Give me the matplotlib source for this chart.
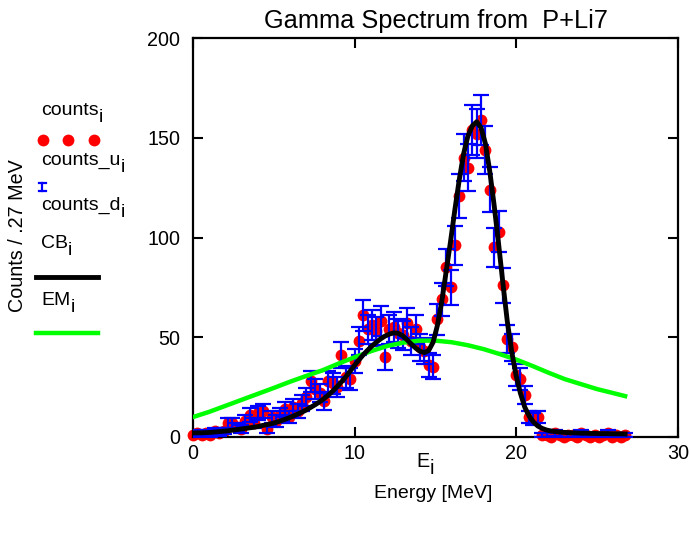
import numpy as np
import matplotlib
matplotlib.use("Agg")
import matplotlib.pyplot as plt
from matplotlib.lines import Line2D

plt.rcParams['font.family'] = ['Liberation Sans', 'DejaVu Sans']

# bins of .27 MeV
bin_width = 0.27
energy = bin_width * np.arange(100)

# counts per bin
counts = np.array([
    1, 2, 1, 2, 1, 3, 2, 3, 7, 7,
    5, 4, 8, 11, 7, 12, 13, 4, 10, 8,
    11, 14, 10, 15, 13, 17, 20, 28, 24, 22,
    18, 28, 27, 25, 41, 30, 29, 38, 48, 61,
    54, 56, 53, 58, 40, 54, 55, 52, 51, 57,
    48, 54, 45, 43, 36, 35, 59, 69, 85, 75,
    96, 121, 140, 135, 154, 152, 159, 144, 124, 95,
    103, 76, 49, 45, 31, 29, 21, 10, 9, 10,
    1, 1, 0, 2, 1, 0, 1, 1, 0, 2,
    1, 0, 1, 0, 1, 2, 0, 1, 0, 1,
], dtype=float)

# poisson error bars
counts_u = counts + np.sqrt(counts)
counts_d = counts - np.sqrt(counts)

# fitted total curve (CB), one value per bin
cb = np.array([
    2.0, 2.1, 2.1, 2.2, 2.3, 2.5, 2.7, 2.9, 3.1, 3.4,
    3.7, 4.0, 4.3, 4.6, 4.9, 5.3, 5.8, 6.2, 6.7, 7.3,
    8.0, 8.8, 9.6, 10.5, 11.5, 12.5, 13.6, 14.9, 16.2, 17.6,
    19.2, 21.0, 23.0, 25.2, 27.6, 30.2, 33.0, 35.9, 38.6, 41.2,
    43.5, 45.6, 47.5, 49.2, 50.6, 51.6, 52.2, 52.0, 50.8, 48.8,
    46.6, 44.6, 43.0, 42.3, 43.4, 47.5, 56, 68, 83, 98,
    114, 129, 142, 151, 156, 158, 155, 147, 133, 116,
    97, 77, 58, 43, 31, 22, 15, 10.5, 7.5, 5.5,
    4.3, 3.5, 3.0, 2.7, 2.5, 2.3, 2.2, 2.1, 2.0, 1.9,
    1.9, 1.8, 1.8, 1.7, 1.7, 1.7, 1.6, 1.6, 1.6, 1.5,
])

# broad EM component
em_energy = [0, 1, 2, 3, 4, 5, 6, 7, 8, 9, 10, 11, 12, 13, 14, 15,
             16, 17, 18, 19, 20, 21, 22, 23, 24, 25, 26, 26.73]
em = [10.0, 12.6, 15.6, 18.6, 21.6, 24.6, 27.7, 30.6, 33.4, 36.8, 40.0,
      43.0, 45.6, 47.3, 48.3, 48.3, 47.5, 46.0, 44.0, 41.5, 38.8, 35.6,
      32.2, 29.0, 26.5, 24.0, 22.0, 20.5]

W, H = 691, 533
fig = plt.figure(figsize=(W / 100, H / 100), dpi=100)
ax = fig.add_axes([193 / W, 1 - 437 / H, 485 / W, 399 / H])

ax.plot(energy, counts, 'o', color='#ff0000', ms=8.5, mec='none', zorder=2, clip_on=False)
ax.errorbar(energy, counts, yerr=[counts - counts_d, counts_u - counts],
            fmt='none', ecolor='#0000ff', elinewidth=1.6, capsize=5.6,
            capthick=1.6, zorder=3)
ax.plot(em_energy, em, color='#00ff00', lw=3.2, zorder=4)
ax.plot(energy, cb, color='black', lw=3.5, zorder=5)

ax.set_xlim(0, 30)
ax.set_ylim(0, 200)
ax.set_xticks([0, 10, 20, 30])
ax.set_yticks([0, 50, 100, 150, 200])
for s in ax.spines.values():
    s.set_linewidth(1.6)
ax.tick_params(direction='in', length=7, width=1.5, top=True, right=True,
               labelsize=14.2)
ax.tick_params(axis='y', pad=9)
ax.tick_params(axis='x', pad=5)

ax.set_title('Gamma Spectrum from  P+Li7', fontsize=18.3, pad=7)


def fx(px):
    return px / W


def fy(py):
    return 1 - py / H


renderer = fig.canvas.get_renderer()


# mathcad style subscript: same size letter, dropped a few pixels
def sub_text(x, yb, main, sub, size, ha='left'):
    t = fig.text(fx(x), fy(yb), main, fontsize=size, ha='left', va='baseline')
    w = t.get_window_extent(renderer).width
    s = fig.text(fx(x), fy(yb + 7), sub, fontsize=size, ha='left', va='baseline')
    sw = s.get_window_extent(renderer).width
    if ha == 'center':
        x0 = x - (w + sw) / 2
        t.set_x(fx(x0))
    else:
        x0 = x
    s.set_x(fx(x0 + w))


sub_text(425, 467, 'E', 'i', 14.2, ha='center')
fig.text(433 / W, 1 - 493 / H, 'Energy [MeV]', fontsize=14, ha='center', va='center')
fig.text(18 / W, 1 - 236 / H, 'Counts / .27 MeV', fontsize=14.2, rotation=90,
         ha='center', va='center')

# legend drawn at the left
labels = [('counts', 115), ('counts_u', 165), ('counts_d', 210),
          ('CB', 248), ('EM', 305)]
for txt, yb in labels:
    sub_text(41, yb, txt, 'i', 14)

fig.add_artist(Line2D([fx(43), fx(68), fx(94)], [fy(140)] * 3, ls='none',
                      marker='o', ms=8.5, color='#ff0000', mec='none'))
fig.add_artist(Line2D([fx(42), fx(42)], [fy(183), fy(191)], color='#0000ff', lw=1.6))
fig.add_artist(Line2D([fx(38.5), fx(45.5)], [fy(183)] * 2, color='#0000ff', lw=1.6))
fig.add_artist(Line2D([fx(38.5), fx(45.5)], [fy(191)] * 2, color='#0000ff', lw=1.6))
fig.add_artist(Line2D([fx(36), fx(98)], [fy(277)] * 2, color='black', lw=3.5))
fig.add_artist(Line2D([fx(36), fx(98)], [fy(333)] * 2, color='#00ff00', lw=3.2))

fig.savefig('out.png', dpi=100)
